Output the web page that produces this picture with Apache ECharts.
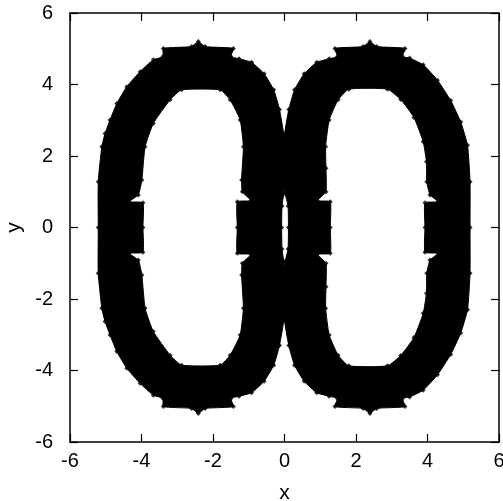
<!DOCTYPE html>
<html>
<head>
<meta charset="utf-8">
<script src="https://cdn.jsdelivr.net/npm/echarts@6/dist/echarts.min.js"></script>
<style>
  html, body { margin: 0; padding: 0; background: #ffffff; }
  #chart { width: 503px; height: 501px; }
</style>
</head>
<body>
<div id="chart"></div>
<script>
// Axis range and tick step (both axes)
const axisMin = -6;
const axisMax = 6;
const tickStep = 2;

// Right ring: outer boundary of the point cloud, [x, y]
const rightOuter = [
  [5.19, 0.00], [5.19, 1.28], [5.12, 2.30], [4.93, 2.95], [4.65, 3.55], [4.28, 4.12],
  [3.88, 4.55], [3.50, 4.74], [3.30, 4.78], [3.37, 5.01], [2.58, 5.06], [2.39, 5.20],
  [2.20, 5.06], [1.41, 5.01], [1.48, 4.78], [1.25, 4.72], [0.90, 4.62], [0.55, 4.30],
  [0.28, 3.85], [0.12, 3.30], [0.00, 2.59], [-0.03, 1.50], [0.02, 0.95], [0.10, 0.60],
  [0.11, 0.00], [0.10, -0.60], [0.02, -0.95], [-0.03, -1.50], [0.00, -2.59], [0.12, -3.30],
  [0.28, -3.85], [0.55, -4.30], [0.90, -4.62], [1.25, -4.72], [1.48, -4.78], [1.41, -5.01],
  [2.20, -5.06], [2.39, -5.20], [2.58, -5.06], [3.37, -5.01], [3.30, -4.78], [3.50, -4.74],
  [3.88, -4.55], [4.28, -4.12], [4.65, -3.55], [4.93, -2.95], [5.12, -2.30], [5.19, -1.28]
];

// Right ring: inner boundary (the empty hole), [x, y]
const rightInner = [
  [3.93, 0.00], [3.93, 0.69], [4.30, 0.72], [4.07, 0.91], [3.98, 1.28], [3.97, 1.84],
  [3.88, 2.40], [3.62, 3.08], [3.25, 3.58], [2.88, 3.87], [1.80, 3.87], [1.50, 3.57],
  [1.25, 3.01], [1.15, 2.26], [1.16, 1.66], [1.16, 1.00], [0.92, 0.75], [1.28, 0.72],
  [1.28, 0.00], [1.28, -0.72], [0.92, -0.75], [1.16, -1.00], [1.16, -1.66], [1.15, -2.26],
  [1.25, -3.01], [1.50, -3.57], [1.80, -3.87], [2.88, -3.87], [3.25, -3.58], [3.62, -3.08],
  [3.88, -2.40], [3.97, -1.84], [3.98, -1.28], [4.07, -0.91], [4.30, -0.72], [3.93, -0.69]
];

// Left ring: outer boundary, [x, y]
const leftOuter = [
  [-5.21, 0.00], [-5.21, 1.28], [-5.11, 2.26], [-5.02, 2.63], [-4.88, 3.01], [-4.69, 3.47],
  [-4.41, 3.94], [-4.04, 4.36], [-3.67, 4.69], [-3.40, 4.78], [-3.39, 5.01], [-2.60, 5.06],
  [-2.41, 5.20], [-2.22, 5.06], [-1.43, 5.01], [-1.50, 4.78], [-1.27, 4.72], [-0.92, 4.62],
  [-0.57, 4.30], [-0.30, 3.85], [-0.14, 3.30], [-0.02, 2.59], [0.03, 1.50], [-0.02, 0.95],
  [-0.07, 0.60], [-0.08, 0.00], [-0.07, -0.60], [-0.02, -0.95], [0.03, -1.50], [-0.02, -2.59],
  [-0.14, -3.30], [-0.30, -3.85], [-0.57, -4.30], [-0.92, -4.62], [-1.27, -4.72], [-1.50, -4.78],
  [-1.43, -5.01], [-2.22, -5.06], [-2.41, -5.20], [-2.60, -5.06], [-3.39, -5.01], [-3.40, -4.78],
  [-3.67, -4.69], [-4.04, -4.36], [-4.41, -3.94], [-4.69, -3.47], [-4.88, -3.01], [-5.02, -2.63],
  [-5.11, -2.26], [-5.21, -1.28]
];

// Left ring: inner boundary, [x, y]
const leftInner = [
  [-3.96, 0.00], [-3.96, 0.69], [-4.35, 0.72], [-4.09, 0.91], [-3.99, 1.33], [-3.90, 2.26],
  [-3.67, 2.91], [-3.20, 3.57], [-2.88, 3.85], [-1.80, 3.85], [-1.52, 3.57], [-1.24, 3.01],
  [-1.15, 2.26], [-1.20, 1.33], [-1.18, 1.00], [-0.94, 0.75], [-1.32, 0.72], [-1.32, 0.00],
  [-1.32, -0.72], [-0.94, -0.75], [-1.18, -1.00], [-1.20, -1.33], [-1.15, -2.26], [-1.24, -3.01],
  [-1.52, -3.57], [-1.80, -3.85], [-2.88, -3.85], [-3.20, -3.57], [-3.67, -2.91], [-3.90, -2.26],
  [-3.99, -1.33], [-4.09, -0.91], [-4.35, -0.72], [-3.96, -0.69]
];

const rings = [
  { outer: leftOuter, inner: leftInner },
  { outer: rightOuter, inner: rightInner }
];

const FONT = 'Liberation Sans, Arial, Helvetica, sans-serif';
const INK = '#000000';

// Each ring is a filled outer boundary with its hole punched out in white
function ringItem(params, api) {
  const ring = rings[params.dataIndex];
  const outerPts = ring.outer.map(p => api.coord(p));
  const innerPts = ring.inner.map(p => api.coord(p));
  return {
    type: 'group',
    children: [
      { type: 'polygon', shape: { points: outerPts, smooth: 0.15 },
        style: { fill: INK, stroke: INK, lineWidth: 1 } },
      { type: 'polygon', shape: { points: innerPts, smooth: 0.15 },
        style: { fill: '#ffffff', stroke: INK, lineWidth: 1 } }
    ]
  };
}

const edgePoints = [].concat(leftOuter, leftInner, rightOuter, rightInner);

const baseAxis = {
  type: 'value',
  min: axisMin,
  max: axisMax,
  interval: tickStep,
  splitLine: { show: false },
  axisLine: { show: true, onZero: false, lineStyle: { color: INK, width: 1.5 } },
  axisTick: { show: true, inside: true, length: 8, lineStyle: { color: INK, width: 1.2 } }
};

const chart = echarts.init(document.getElementById('chart'), null, { renderer: 'canvas' });
chart.setOption({
  animation: false,
  backgroundColor: '#ffffff',
  grid: { left: 70, top: 13, width: 429, height: 429, containLabel: false, outerBoundsMode: 'none' },
  xAxis: [
    Object.assign({}, baseAxis, {
      position: 'bottom',
      name: 'x', nameLocation: 'middle', nameGap: 41,
      nameTextStyle: { color: INK, fontFamily: FONT, fontSize: 21 },
      axisLabel: { color: INK, fontFamily: FONT, fontSize: 20, margin: 9 }
    }),
    Object.assign({}, baseAxis, { position: 'top', axisLabel: { show: false } })
  ],
  yAxis: [
    Object.assign({}, baseAxis, {
      position: 'left',
      name: 'y', nameLocation: 'middle', nameGap: 44, nameRotate: 90,
      nameTextStyle: { color: INK, fontFamily: FONT, fontSize: 21 },
      axisLabel: { color: INK, fontFamily: FONT, fontSize: 20, margin: 17 }
    }),
    Object.assign({}, baseAxis, { position: 'right', axisLabel: { show: false } })
  ],
  series: [
    {
      type: 'custom',
      xAxisIndex: 0, yAxisIndex: 0,
      renderItem: ringItem,
      data: rings.map((r, i) => i),
      z: 1,
      silent: true
    },
    {
      type: 'scatter',
      xAxisIndex: 0, yAxisIndex: 0,
      symbol: 'diamond',
      symbolSize: 5,
      itemStyle: { color: INK },
      data: edgePoints,
      z: 2,
      silent: true
    }
  ]
});
</script>
</body>
</html>
